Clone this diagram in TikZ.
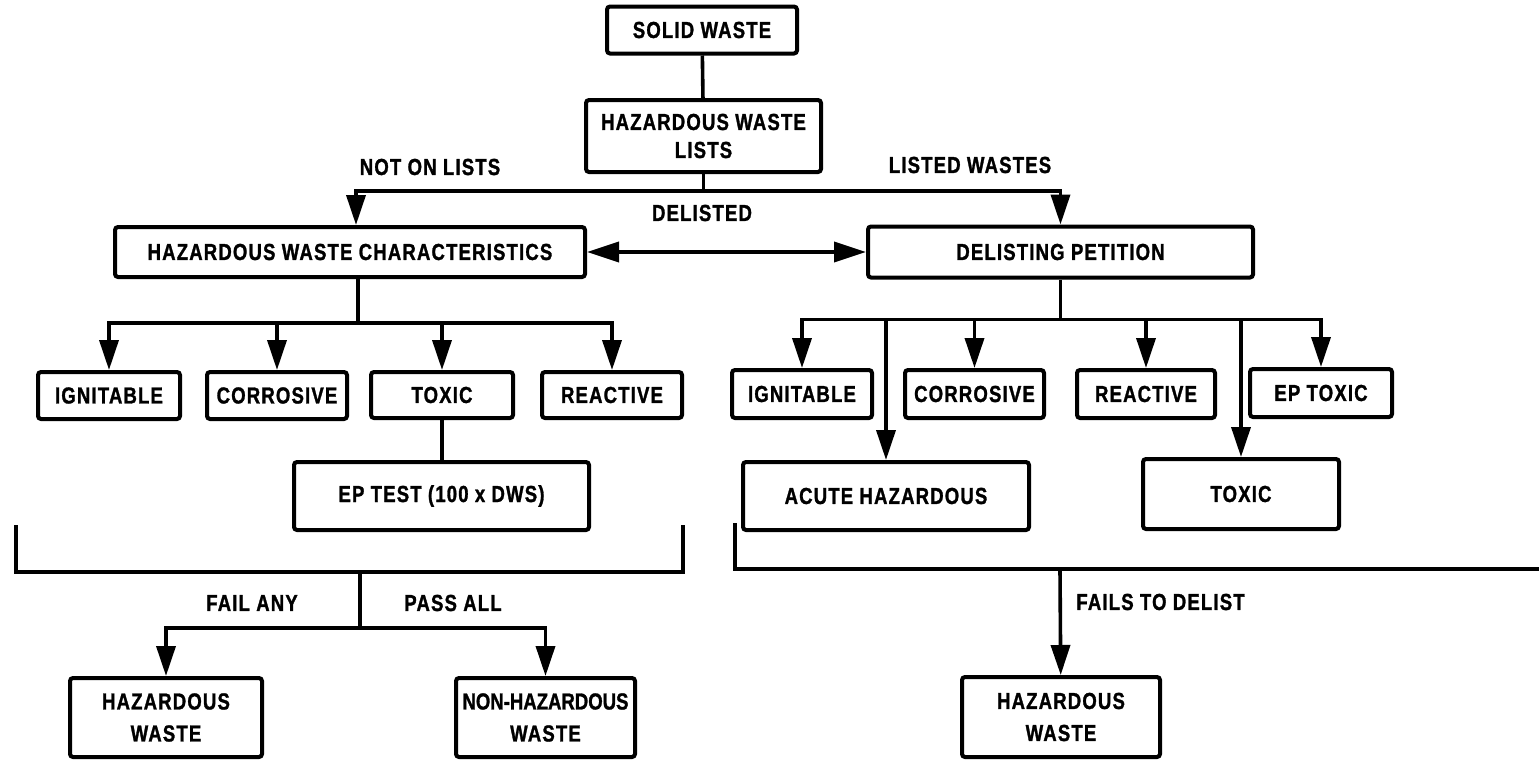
\documentclass[tikz,border=0pt]{standalone}
\usepackage{fontspec}
\setmainfont{Liberation Sans}[FakeStretch=0.8,LetterSpace=5,BoldFeatures={FakeBold=1.2}]
\usetikzlibrary{arrows.meta}
\begin{document}
\begin{tikzpicture}[x=0.5pt,y=-0.5pt,
  box/.style={draw, line width=2pt, rounded corners=1.5pt, inner sep=0pt, align=center,
    font=\fontsize{11.6}{14}\selectfont\bfseries},
  box2/.style={box, font=\fontsize{11.6}{16}\selectfont\bfseries},
  lbl/.style={inner sep=0pt, font=\fontsize{11.6}{13}\selectfont\bfseries},
  conn/.style={line width=1.8pt},
  arr/.style={conn, -{Triangle[length=15pt,width=9.5pt]}},
  darr/.style={conn, {Triangle[length=16pt,width=10pt]}-{Triangle[length=16pt,width=10pt]}}
]
\useasboundingbox (0,0) rectangle (1539,762);

% top
\node[box, minimum width=95pt, minimum height=23.5pt] (sw) at (702,30) {SOLID WASTE};
\node[box, minimum width=117.5pt, minimum height=36pt] (hwl) at (703.5,136) {HAZARDOUS WASTE\\LISTS};
\node[box, minimum width=235pt, minimum height=25pt] (hwc) at (350,252) {HAZARDOUS WASTE CHARACTERISTICS};
\node[box, minimum width=192.5pt, minimum height=25.5pt] (dp) at (1060.5,252) {DELISTING PETITION};

\node[lbl] (nol) at (430,167) {NOT ON LISTS};
\node[lbl] (lw) at (970,165) {LISTED WASTES};
\node[lbl] (dl) at (702,213) {DELISTED};

\coordinate (j1) at (703.5,191);
\draw[conn] (sw) -- (hwl);
\draw[conn] (hwl) -- (j1);
\draw[arr] (j1) -| ([xshift=3pt]hwc.north);
\draw[arr] (j1) -| (dp.north);
\draw[darr] (hwc.east) -- (dp.west);

% left branch
\node[box, minimum width=71pt, minimum height=23.5pt] (ig1) at (109,395.5) {IGNITABLE};
\node[box, minimum width=70pt, minimum height=23.5pt] (co1) at (277,395.5) {CORROSIVE};
\node[box, minimum width=71pt, minimum height=23pt] (tx1) at (442,395) {TOXIC};
\node[box, minimum width=70pt, minimum height=23pt] (re1) at (612,395) {REACTIVE};
\node[box, minimum width=147.5pt, minimum height=34pt] (ep) at (441.5,496) {EP TEST (100 x DWS)};

\path ([xshift=4pt]hwc.south) ++(0,44) coordinate (j2);
\draw[conn] ([xshift=4pt]hwc.south) -- (j2);
\draw[arr] (j2) -| (ig1);
\draw[arr] (j2) -| (co1);
\draw[arr] (j2) -| (tx1);
\draw[arr] (j2) -| (re1);
\draw[conn] (tx1.south) -- (tx1.south |- ep.north);

\coordinate (bl1) at (16,525);
\coordinate (br1) at (683,525);
\coordinate (bm1) at (360,572);
\coordinate (j3) at (360,628);
\draw[conn] (bl1) |- (bm1) -| (br1);
\draw[conn] (bm1) -- (j3);

\node[box2, minimum width=96pt, minimum height=39.5pt] (hw1) at (166,717.5) {HAZARDOUS\\WASTE};
\node[box2, minimum width=89.5pt, minimum height=39.5pt] (nhw) at (545.5,717.5) {\addfontfeatures{LetterSpace=0}NON-HAZARDOUS\\WASTE};
\draw[arr] (j3) -| (hw1);
\draw[arr] (j3) -| (nhw);
\node[lbl] (fa) at (252,603) {FAIL ANY};
\node[lbl] (pa) at (453,603) {PASS ALL};

% right branch
\node[box, minimum width=70pt, minimum height=24pt] (ig2) at (802,394) {IGNITABLE};
\node[box, minimum width=69.5pt, minimum height=24pt] (co2) at (974.5,394) {CORROSIVE};
\node[box, minimum width=69pt, minimum height=24pt] (re2) at (1146,394) {REACTIVE};
\node[box, minimum width=71pt, minimum height=24pt] (ept) at (1321,393) {EP TOXIC};
\node[box, minimum width=143pt, minimum height=34pt] (ac) at (886,496) {ACUTE HAZARDOUS};
\node[box, minimum width=98pt, minimum height=35pt] (tx2) at (1241,494) {TOXIC};

\path (dp.south) ++(0,40) coordinate (j4);
\draw[conn] (dp.south) -- (j4);
\draw[arr] (j4) -| (ig2);
\draw[arr] (j4) -| (ac);
\draw[arr] (j4) -| (co2);
\draw[arr] (j4) -| (re2);
\draw[arr] (j4) -| (tx2);
\draw[arr] (j4) -| (ept);

\coordinate (bl2) at (735,523);
\coordinate (br2) at (1539,569);
\coordinate (bm2) at (1060,569);
\draw[conn] (bl2) |- (br2);
\node[box2, minimum width=99pt, minimum height=40pt] (hw2) at (1061,717) {HAZARDOUS\\WASTE};
\draw[arr] (bm2) -- (hw2);
\node[lbl, anchor=west] (ftd) at (1076,602) {FAILS TO DELIST};
\end{tikzpicture}
\end{document}
